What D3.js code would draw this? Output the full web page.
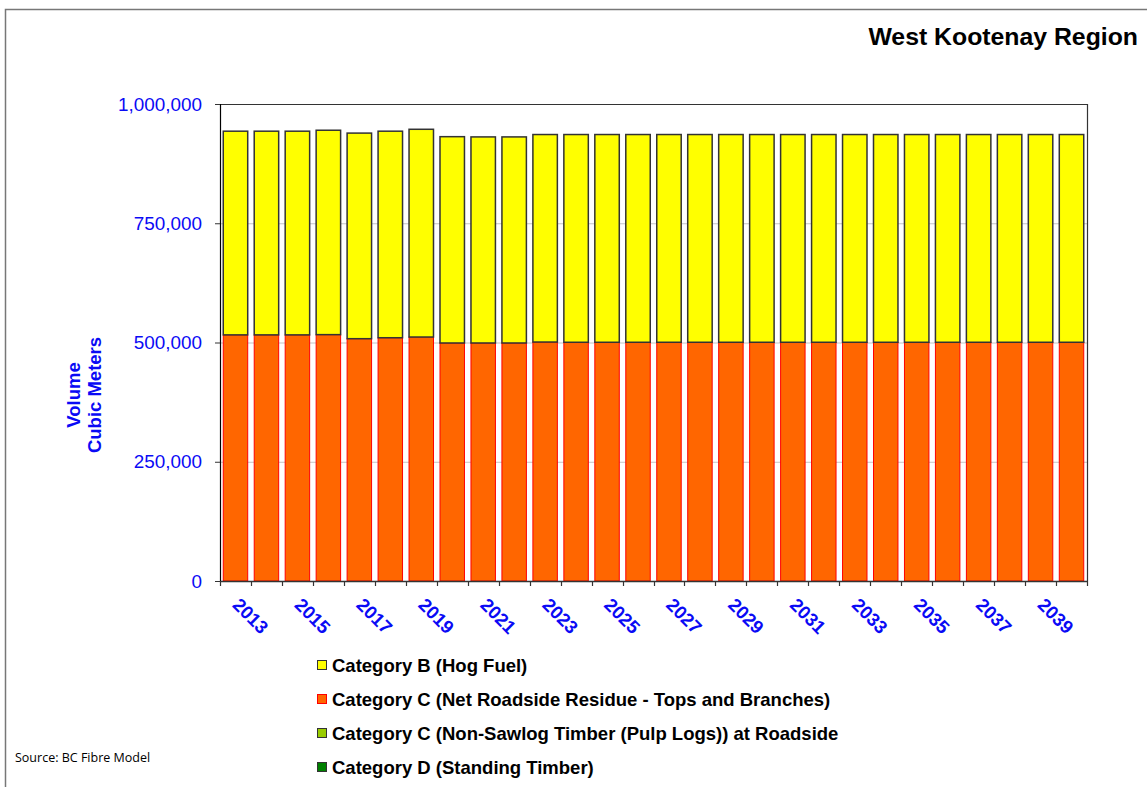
<!DOCTYPE html>
<html>
<head>
<meta charset="utf-8">
<script src="https://cdn.jsdelivr.net/npm/d3@7"></script>
<style>
  body { margin: 0; background: #fff; }
  text { font-family: "Liberation Sans", Arial, sans-serif; }
</style>
</head>
<body>
<svg id="chart" width="1147" height="787"></svg>
<script>
  // years on the x axis
  var years = [2013, 2014, 2015, 2016, 2017, 2018, 2019, 2020, 2021, 2022, 2023, 2024, 2025, 2026,
               2027, 2028, 2029, 2030, 2031, 2032, 2033, 2034, 2035, 2036, 2037, 2038, 2039, 2040];

  // volumes in cubic meters
  var catDStanding = [0, 0, 0, 0, 0, 0, 0, 0, 0, 0, 0, 0, 0, 0, 0, 0, 0, 0, 0, 0, 0, 0, 0, 0, 0, 0, 0, 0];
  var catCPulpLogs = [0, 0, 0, 0, 0, 0, 0, 0, 0, 0, 0, 0, 0, 0, 0, 0, 0, 0, 0, 0, 0, 0, 0, 0, 0, 0, 0, 0];
  var catCNetResidue = [516000, 516000, 516000, 516500, 508000, 510000, 511500, 499000, 499000, 499000, 501000,
                        500500, 500500, 500500, 500500, 500500, 500500, 500500, 500500, 500500, 500500, 500500,
                        500500, 500500, 500500, 500500, 500500, 500500];
  var catBHogFuel = [427000, 427000, 427000, 428500, 431000, 433000, 435500, 432500, 432000, 432000, 435000,
                     435500, 435500, 435500, 435500, 435500, 435500, 435500, 435500, 435500, 435500, 435500,
                     435500, 435500, 435500, 435500, 435500, 435500];

  var yTicks = [0, 250000, 500000, 750000, 1000000];

  var seriesNames = ["Category B (Hog Fuel)",
                     "Category C (Net Roadside Residue - Tops and Branches)",
                     "Category C (Non-Sawlog Timber (Pulp Logs)) at Roadside",
                     "Category D (Standing Timber)"];
  var seriesKeys = ["B", "CNet", "CPulp", "D"];
  var colors = {"B": "#FFFF00", "CNet": "#FF6600", "CPulp": "#99CC00", "D": "#008000"};
  var strokes = {"B": "#333", "CNet": "#FF0000", "CPulp": "#333", "D": "#333"};

  var blue = "#0a0af5";
  var svg = d3.select("#chart");

  var plotLeft = 220, plotRight = 1087, plotTop = 104, plotBottom = 581;

  // build rows for the stack
  var rows = years.map(function(yr, i) {
    return {year: yr, D: catDStanding[i], CPulp: catCPulpLogs[i], CNet: catCNetResidue[i], B: catBHogFuel[i]};
  });

  // outer frame (cut off on the right and bottom)
  svg.append("path")
    .attr("d", "M5.5,800 L5.5,9.5 L1200,9.5")
    .attr("fill", "none")
    .attr("stroke", "#777")
    .attr("stroke-width", 1.5);

  svg.append("text").text("West Kootenay Region")
    .attr("x", 1138)
    .attr("y", 45)
    .attr("text-anchor", "end")
    .style("font-size", "24.8px")
    .style("font-weight", "bold");

  var x = d3.scaleBand()
    .domain(years)
    .range([plotLeft, plotRight])
    .paddingInner(0.21)
    .paddingOuter(0.105);

  var y = d3.scaleLinear()
    .domain([0, 1000000])
    .range([plotBottom, plotTop]);

  // gridlines
  svg.append("g").selectAll("line").data(yTicks.slice(1, 4)).enter().append("line")
    .attr("x1", plotLeft).attr("x2", plotRight)
    .attr("y1", function(d) { return y(d) + 0.5; })
    .attr("y2", function(d) { return y(d) + 0.5; })
    .attr("stroke", "#c4c4c4")
    .attr("stroke-width", 1);

  // plot border top and right
  svg.append("path")
    .attr("d", "M" + plotLeft + "," + (plotTop + 0.5) + " L" + (plotRight + 0.5) + "," + (plotTop + 0.5) + " L" + (plotRight + 0.5) + "," + plotBottom)
    .attr("fill", "none")
    .attr("stroke", "#333")
    .attr("stroke-width", 1.2);

  // stacked bars, bottom to top
  var stack = d3.stack().keys(["D", "CPulp", "CNet", "B"]);
  var layers = stack(rows);

  svg.append("g").selectAll("g").data(layers).enter().append("g")
    .attr("fill", function(d) { return colors[d.key]; })
    .attr("stroke", function(d) { return strokes[d.key]; })
    .attr("stroke-width", function(d) { return d.key == "B" ? 1.5 : 1; })
    .selectAll("rect")
    .data(function(d) { return d.filter(function(p) { return p[1] - p[0] > 0; }); })
    .enter().append("rect")
      .attr("x", function(d) { return x(d.data.year); })
      .attr("y", function(d) { return y(d[1]); })
      .attr("width", x.bandwidth())
      .attr("height", function(d) { return y(d[0]) - y(d[1]); });

  // y axis
  var yAxis = svg.append("g")
    .attr("transform", "translate(" + plotLeft + ",0)")
    .call(d3.axisLeft(y).tickValues(yTicks).tickSize(5).tickPadding(13).tickFormat(d3.format(",")));
  yAxis.select(".domain").attr("stroke", "#000").attr("stroke-width", 1.2);
  yAxis.selectAll(".tick line").attr("stroke", "#333");
  yAxis.selectAll("text")
    .attr("fill", blue)
    .style("font-size", "18.9px")
    .style("font-family", "Liberation Sans, Arial, sans-serif");

  // x axis: ticks on category boundaries, labels on odd years
  var xAxis = svg.append("g")
    .attr("transform", "translate(0," + plotBottom + ")")
    .call(d3.axisBottom(x).tickValues(years.filter(function(d, i) { return i % 2 == 0; })).tickSize(0).tickPadding(0));
  xAxis.select(".domain").attr("stroke", "#333").attr("stroke-width", 1.5);
  xAxis.selectAll("text")
    .attr("fill", blue)
    .attr("text-anchor", "start")
    .attr("y", 0)
    .attr("dy", 0)
    .attr("transform", "translate(-4,25) rotate(45)")
    .style("font-size", "18.5px")
    .style("font-weight", "bold")
    .style("font-family", "Liberation Sans, Arial, sans-serif");

  var bounds = d3.range(years.length + 1).map(function(i) { return x.range()[0] + i * x.step(); });
  svg.append("g").selectAll("line").data(bounds).enter().append("line")
    .attr("x1", function(d) { return Math.round(d) + 0.5; })
    .attr("x2", function(d) { return Math.round(d) + 0.5; })
    .attr("y1", plotBottom)
    .attr("y2", plotBottom + 5)
    .attr("stroke", "#333")
    .attr("stroke-width", 1.2);

  // y axis title
  var yTitle = svg.append("text")
    .attr("transform", "translate(80,395) rotate(-90)")
    .attr("text-anchor", "middle")
    .attr("fill", blue)
    .style("font-size", "18.5px")
    .style("font-weight", "bold");
  yTitle.append("tspan").attr("x", 0).attr("y", 0).text("Volume");
  yTitle.append("tspan").attr("x", 0).attr("y", 21).text("Cubic Meters");

  // legend
  var legend = svg.append("g").selectAll("g").data(seriesKeys).enter().append("g")
    .attr("transform", function(d, i) { return "translate(317," + (660 + 34 * i) + ")"; });
  legend.append("rect")
    .attr("x", 0.5).attr("y", 0.5)
    .attr("width", 9).attr("height", 9)
    .attr("fill", function(d) { return colors[d]; })
    .attr("stroke", function(d) { return d == "CNet" ? "#FF0000" : "#333"; })
    .attr("stroke-width", 1);
  legend.append("text")
    .attr("x", 15)
    .attr("y", 11.5)
    .style("font-size", "18.5px")
    .style("font-weight", "bold")
    .text(function(d, i) { return seriesNames[i]; });

  svg.append("text").text("Source: BC Fibre Model")
    .attr("x", 15)
    .attr("y", 762)
    .style("font-size", "12.5px")
    .style("font-family", "Open Sans, sans-serif");
</script>
</body>
</html>
